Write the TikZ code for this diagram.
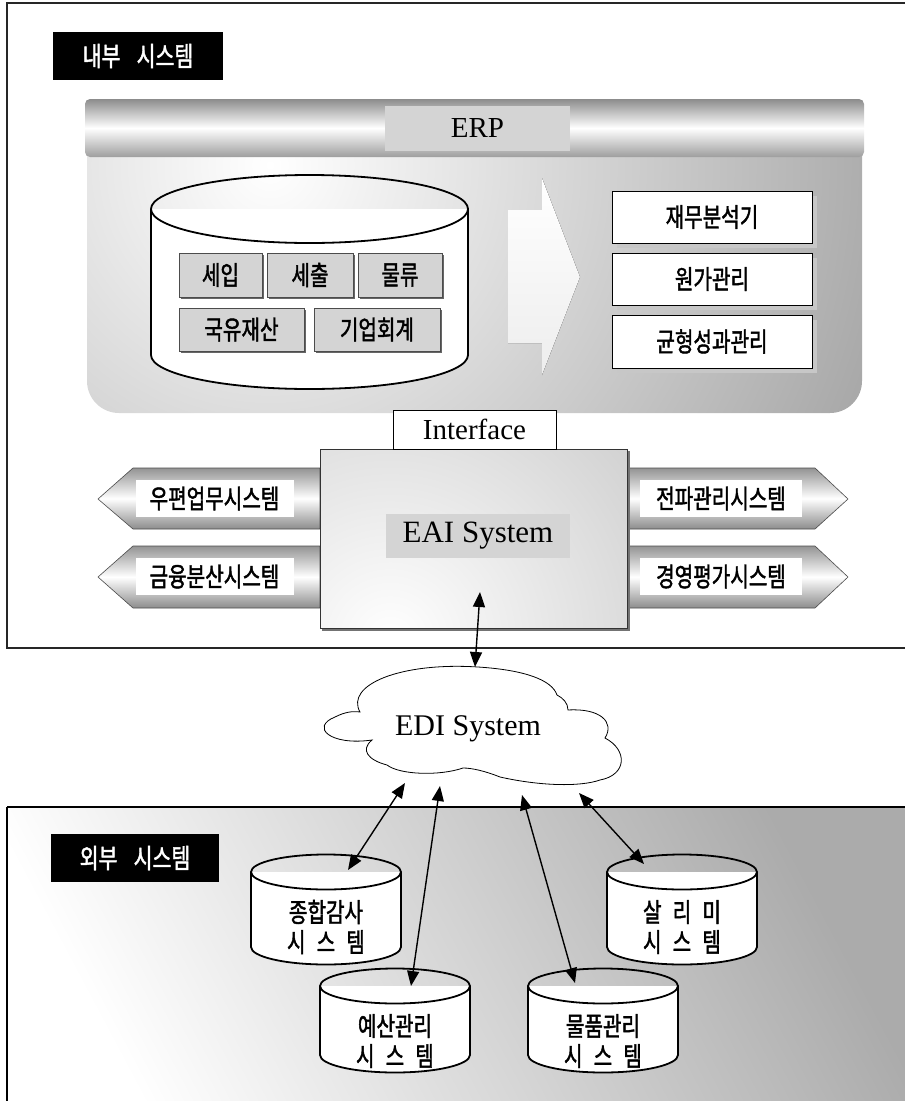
\documentclass[tikz,border=0pt]{standalone}
\usepackage{fontspec}
\usetikzlibrary{arrows.meta,shadows}
\newfontfamily\krfont{Noto Sans CJK KR}[FakeStretch=0.76, FakeBold=1.6]
\newfontfamily\latfont{Liberation Serif}
% cylinder: #1 cx, #2 y top centre, #3 y bottom centre, #4 rx, #5 ry, #6 line width
\newcommand\mydrum[6]{%
  \fill[white] ({#1-#4},#2) rectangle ({#1+#4},#3);
  \fill[white] (#1,#3) ellipse [x radius=#4, y radius=#5];
  \draw[line width=#6] (#1,#2) ellipse [x radius=#4, y radius=#5];
  \draw[line width=#6] ({#1-#4},#2) -- ({#1-#4},#3) ({#1+#4},#2) -- ({#1+#4},#3);
  \begin{scope}
    \clip ({#1-#4-5},#3) rectangle ({#1+#4+5},{#3+#5+5});
    \draw[line width=#6] (#1,#3) ellipse [x radius=#4, y radius=#5];
  \end{scope}}
\tikzset{
  kr/.style={font={\krfont\fontsize{26.5}{30}\selectfont}},
  krsp/.style={font={\krfont\fontsize{26.5}{30}\selectfont\spaceskip=0.42em\relax}, align=center, inner sep=0pt},
  titlebox/.style={fill=black, text=white, inner sep=0pt, minimum width=170pt, minimum height=48pt,
    font={\krfont\fontsize{27}{28}\selectfont\spaceskip=0.6em\relax}},
  sbox/.style={draw=black!70, fill=black!17, line width=0.8pt, inner sep=0pt, minimum height=44pt, kr,
    drop shadow={shadow xshift=1.5pt, shadow yshift=-1.5pt, fill=black!60, opacity=1}},
  rbox/.style={draw=black, fill=white, line width=1pt, inner sep=0pt, minimum width=200pt, minimum height=52pt, kr,
    drop shadow={shadow xshift=5pt, shadow yshift=-5pt, fill=black!22, opacity=1}},
  lbl/.style={fill=white, inner sep=0pt, minimum width=158pt, minimum height=37pt, kr},
  graylbl/.style={fill=black!17, inner sep=0pt},
  dbl/.style={<->, >={Triangle[length=15pt,width=12pt]}, line width=1.4pt},
  metal/.style={top color=black!42, bottom color=black!45, middle color=white, draw=black!70, line width=0.6pt},
}
\begin{document}
\begin{tikzpicture}[x=1pt,y=-1pt]
\useasboundingbox (0,0) rectangle (905,1101);

% ---------- lower region ----------
\begin{scope}
  \clip (7,807) rectangle (910,1110);
  \shade[top color=black!33, bottom color=white, shading angle=-62] (7,807) rectangle (910,1110);
\end{scope}
\draw[line width=2pt] (7,807) -- (910,807);
\draw[line width=1.2pt] (7,807) -- (7,1110);

% ---------- upper frame ----------
\draw[line width=1.5pt, black!85] (7,3) rectangle (912,648);

\node[titlebox] (inner) at (138,56) {내부 시스템};

% ---------- ERP panel ----------
\begin{scope}
  \clip[rounded corners=32pt] (87,120) rectangle (862,413);
  \shade[inner color=white, outer color=black!44] (270,165) circle (820);
\end{scope}
\shade[top color=black!45, bottom color=black!38, middle color=white, rounded corners=5pt] (85,99) rectangle (864,157);
\node[graylbl, minimum width=185pt, minimum height=45pt, font={\latfont\fontsize{29}{30}\selectfont}] (erp) at (477.5,128.5) {ERP};

\mydrum{309.5}{209}{355}{158.5}{34}{1.8pt}
\node[sbox, minimum width=83pt] (seip) at (220.5,275) {세입};
\node[sbox, minimum width=86pt] (sechul) at (310,275) {세출};
\node[sbox, minimum width=84pt] (mulryu) at (400,275) {물류};
\node[sbox, minimum width=125pt, minimum height=43pt] (gukyu) at (241.5,329.5) {국유재산};
\node[sbox, minimum width=126pt, minimum height=43pt] (giup) at (377,329.5) {기업회계};

\fill[top color=white, bottom color=black!7] (508,210) -- (542,210) -- (542,178) -- (580,277) -- (542,375) -- (542,343) -- (508,343) -- cycle;

\node[rbox] (jaemu) at (712,217) {재무분석기};
\node[rbox] (wonga) at (712,279) {원가관리};
\node[rbox, minimum height=53pt] (gyunhyung) at (712,341.5) {균형성과관리};

% ---------- side arrows ----------
\shadedraw[metal] (98,499) -- (133,468) -- (320,468) -- (320,529) -- (133,529) -- cycle;
\shadedraw[metal] (98,577) -- (133,546) -- (320,546) -- (320,608) -- (133,608) -- cycle;
\shadedraw[metal] (848,499) -- (815,468) -- (627,468) -- (627,529) -- (815,529) -- cycle;
\shadedraw[metal] (848,577) -- (815,546) -- (627,546) -- (627,608) -- (815,608) -- cycle;
\node[lbl] (upyeon) at (214.5,498.5) {우편업무시스템};
\node[lbl] (geumyung) at (214.5,576.5) {금융분산시스템};
\node[lbl, minimum width=162pt] (jeonpa) at (721,498.5) {전파관리시스템};
\node[lbl, minimum width=162pt] (gyeongyeong) at (721,576.5) {경영평가시스템};

% ---------- EAI ----------
\begin{scope}
  \clip (320,449) rectangle (627,628);
  \shade[inner color=white, outer color=black!37] (390,640) circle (640);
\end{scope}
\draw[black!55, line width=1.5pt] (629,451) -- (629,630) -- (322,630);
\node[draw=black!80, line width=0.8pt, minimum width=307pt, minimum height=179pt, inner sep=0pt] (eai) at (473.5,538.5) {};
\node[graylbl, minimum width=184pt, minimum height=44pt, font={\latfont\fontsize{31}{32}\selectfont}] (eailbl) at (478,536) {EAI System};
\node[draw=black, fill=white, line width=0.8pt, inner sep=0pt, minimum width=163pt, minimum height=39pt,
  font={\latfont\fontsize{29}{29}\selectfont}] (iface) at (474.5,429.5) {Interface};

% ---------- EDI cloud ----------
\filldraw[fill=white, draw=black, line width=0.8pt] (360,712)
  .. controls (345,685) and (400,662) .. (478,667)
  .. controls (525,670) and (552,680) .. (557,695)
  .. controls (563,698) and (568,703) .. (568,710)
  .. controls (600,708) and (615,722) .. (605,738)
  .. controls (628,750) and (627,775) .. (600,780)
  .. controls (580,787) and (540,786) .. (500,777)
  .. controls (485,771) and (472,768) .. (463,768)
  .. controls (440,776) and (400,775) .. (387,765)
  .. controls (368,760) and (360,750) .. (372,740)
  .. controls (330,746) and (310,727) .. (335,717)
  .. controls (345,712) and (352,711) .. (360,712) -- cycle;
\node[font={\latfont\fontsize{30}{30}\selectfont}] (edi) at (468,729) {EDI System};

% ---------- outer systems ----------
\node[titlebox, minimum width=168pt] (outer) at (135,858) {외부 시스템};
\mydrum{326}{872}{947}{75}{17.5}{1.8pt}
\mydrum{682}{872}{947}{75}{17.5}{1.8pt}
\mydrum{395}{986}{1055}{75}{17.5}{1.8pt}
\mydrum{603}{986}{1055}{75}{17.5}{1.8pt}
\node[krsp] (jonghap) at (326,927) {종합감사\\시 스 템};
\node[krsp] (salimi) at (682,927) {살 리 미\\시 스 템};
\node[krsp] (yesan) at (395,1041) {예산관리\\시 스 템};
\node[krsp] (mulpum) at (603,1041) {물품관리\\시 스 템};

% ---------- connectors ----------
\coordinate (eaiP) at (480,592);
\coordinate (ediT) at (475,667);
\coordinate (ediA) at (405,783);
\coordinate (jonghapT) at (348,870);
\coordinate (ediB) at (440,786);
\coordinate (yesanT) at (411,986);
\coordinate (ediC) at (522,795);
\coordinate (mulpumT) at (575,983);
\coordinate (ediD) at (579,793);
\coordinate (salimiT) at (644,864);
\draw[dbl] (eaiP) -- (ediT);
\draw[dbl] (ediA) -- (jonghapT);
\draw[dbl] (ediB) -- (yesanT);
\draw[dbl] (ediC) -- (mulpumT);
\draw[dbl] (ediD) -- (salimiT);
\end{tikzpicture}
\end{document}
